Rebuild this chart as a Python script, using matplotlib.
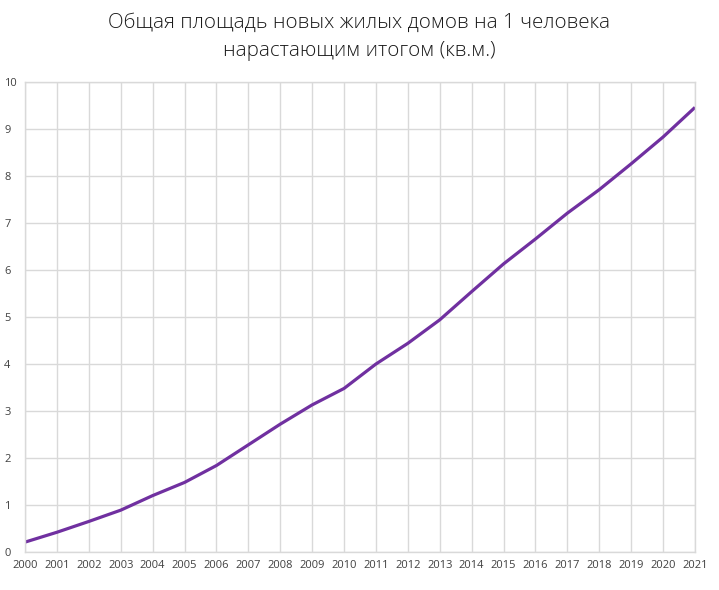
import matplotlib
matplotlib.use("Agg")
import matplotlib.pyplot as plt

years = list(range(2000, 2022))
values = [0.21, 0.42, 0.65, 0.89, 1.20, 1.48, 1.84, 2.28, 2.72, 3.13, 3.48,
          4.00, 4.44, 4.94, 5.54, 6.13, 6.66, 7.21, 7.71, 8.26, 8.83, 9.46]
title = "Общая площадь новых жилых домов на 1 человека\nнарастающим итогом (кв.м.)"

plt.rcParams['font.family'] = ['Open Sans', 'DejaVu Sans']

fig = plt.figure(figsize=(7.19, 5.90), dpi=100)
ax = fig.add_axes([25/719, 38/590, 670/719, 470/590])

ax.plot(years, values, color='#7030A0', linewidth=2.3, solid_capstyle='butt')
ax.set_xlim(2000, 2021)
ax.set_ylim(0, 10)
ax.set_xticks(years)
ax.set_xticklabels([str(y) for y in years])
ax.set_yticks(range(0, 11))
ax.grid(True, color='#d9d9d9', linewidth=1)
ax.set_axisbelow(True)
for s in ax.spines.values():
    s.set_color('#d9d9d9')
    s.set_linewidth(1)
ax.tick_params(length=0, labelsize=8, colors='#404040')
ax.tick_params(axis='x', pad=6)
for lbl in ax.get_yticklabels():
    lbl.set_horizontalalignment('left')
ax.tick_params(axis='y', pad=15)

fig.text(0.5, 1 - 37/590, title, ha='center', va='center', fontsize=14.8,
         fontweight='light', color='#1a1a1a', linespacing=1.55)

fig.savefig('out.png', dpi=100)
